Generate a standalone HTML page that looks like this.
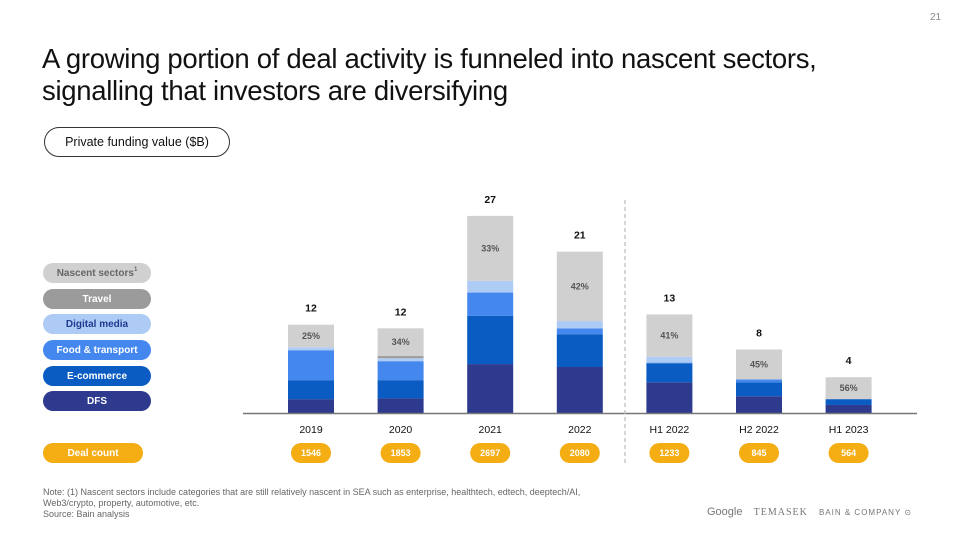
<!DOCTYPE html>
<html><head><meta charset="utf-8"><style>
body{margin:0;width:960px;height:540px;background:#fff;font-family:"Liberation Sans",sans-serif;position:relative;overflow:hidden}
.abs{position:absolute}
.pill{position:absolute;left:43px;width:108px;height:20px;border-radius:10px;font-size:10px;font-weight:bold;display:flex;align-items:center;justify-content:center}
</style></head><body>
<div class="abs" style="left:930px;top:12px;font-size:10px;color:#888">21</div>
<div class="abs" style="left:42px;top:43px;font-size:27.5px;line-height:32px;color:#111;letter-spacing:-0.3px;white-space:nowrap">A growing portion of deal activity is funneled into nascent sectors,<br>signalling that investors are diversifying</div>
<div class="abs" style="left:44px;top:127px;width:184px;height:28px;border:1.5px solid #333;border-radius:15px;font-size:12.5px;line-height:28px;text-align:center;color:#111">Private funding value ($B)</div>
<div class="pill" style="top:263px;background:#d0d0d0;color:#666">Nascent sectors<span style="font-size:6px;position:relative;top:-3px">1</span></div>
<div class="pill" style="top:289px;background:#9b9b9b;color:#fff">Travel</div>
<div class="pill" style="top:314px;background:#aecbf6;color:#1f3a8f">Digital media</div>
<div class="pill" style="top:340px;background:#4487ee;color:#fff">Food &amp; transport</div>
<div class="pill" style="top:366px;background:#0b5cc2;color:#fff">E-commerce</div>
<div class="pill" style="top:391px;background:#2d3a8e;color:#fff">DFS</div>
<div class="pill" style="top:443px;width:100px;background:#f4ad13;color:#fff">Deal count</div>
<svg class="abs" style="left:0;top:0" width="960" height="540" id="chart"></svg>
<div class="abs" style="left:43px;top:487px;font-size:9px;line-height:11px;color:#666;white-space:nowrap">Note: (1) Nascent sectors include categories that are still relatively nascent in SEA such as enterprise, healthtech, edtech, deeptech/AI,<br>Web3/crypto, property, automotive, etc.<br>Source: Bain analysis</div>
<div class="abs" style="left:707px;top:506px;font-size:10px;color:#777;white-space:nowrap"><span style="font-size:11px">Google</span>&nbsp;&nbsp;&nbsp;&nbsp;<span style="font-family:'Liberation Serif',serif;letter-spacing:1px">TEMASEK</span>&nbsp;&nbsp;&nbsp;&nbsp;<span style="font-size:8px;letter-spacing:1px">BAIN &amp; COMPANY ⊙</span></div>
<script>
const categories=["2019","2020","2021","2022","H1 2022","H2 2022","H1 2023"];
const dfs=[1.9,2.0,6.7,6.3,4.2,2.3,1.1];
const ecommerce=[2.6,2.5,6.6,4.5,2.6,1.9,0.8];
const food=[4.1,2.6,3.2,0.8,0.1,0.4,0];
const digital=[0.4,0.4,1.6,1.0,0.8,0,0];
const travel=[0,0.3,0,0,0,0,0];
const nascent=[3.1,3.8,8.9,9.5,5.8,4.1,3.0];
const totals=["12","12","27","21","13","8","4"];
const pcts=["25%","34%","33%","42%","41%","45%","56%"];
const deals=["1546","1853","2697","2080","1233","845","564"];
const series=[[dfs,"#2d3a8e","dfs"],[ecommerce,"#0b5cc2","ecommerce"],[food,"#4487ee","food-transport"],[digital,"#aecbf6","digital-media"],[travel,"#9b9b9b","travel"],[nascent,"#d0d0d0","nascent"]];
const NS="http://www.w3.org/2000/svg",svg=document.getElementById("chart");
const base=413,k=7.3;
const y=v=>base-v*k;
const x=i=>311+i*89.6;
function mk(t,a){const e=document.createElementNS(NS,t);for(const n in a)e.setAttribute(n,a[n]);svg.appendChild(e);return e;}
categories.forEach((c,i)=>{
  let acc=0;
  series.forEach(s=>{
    const v=s[0][i];if(v<=0)return;
    const r=mk("rect",{x:x(i)-23,y:y(acc+v),width:46,height:v*k,fill:s[1]});
    
    
    acc+=v;
  });
  const n=nascent[i];
  const pt=mk("text",{x:x(i),y:y(acc-n/2)+3,"text-anchor":"middle","font-size":"9","font-weight":"bold",fill:"#555"});pt.textContent=pcts[i];
  
  
  const tt=mk("text",{x:x(i),y:y(acc)-13,"text-anchor":"middle","font-size":"10.5","font-weight":"bold",fill:"#111"});tt.textContent=totals[i];
  
  
  const cl=mk("text",{x:x(i),y:433,"text-anchor":"middle","font-size":"10.5",fill:"#111"});cl.textContent=c;
  
  
  const dp=mk("rect",{x:x(i)-20,y:443,width:40,height:20,rx:10,fill:"#f4ad13"});
  
  
  const dt=mk("text",{x:x(i),y:456,"text-anchor":"middle","font-size":"9","font-weight":"bold",fill:"#fff"});dt.textContent=deals[i];
  
  
});
const ax=mk("line",{x1:243,x2:917,y1:base+0.5,y2:base+0.5,stroke:"#777","stroke-width":1.5});


const dl=mk("line",{x1:625,x2:625,y1:200,y2:465,stroke:"#bbb","stroke-width":1.2,"stroke-dasharray":"4,3"});


</script>
</body></html>
